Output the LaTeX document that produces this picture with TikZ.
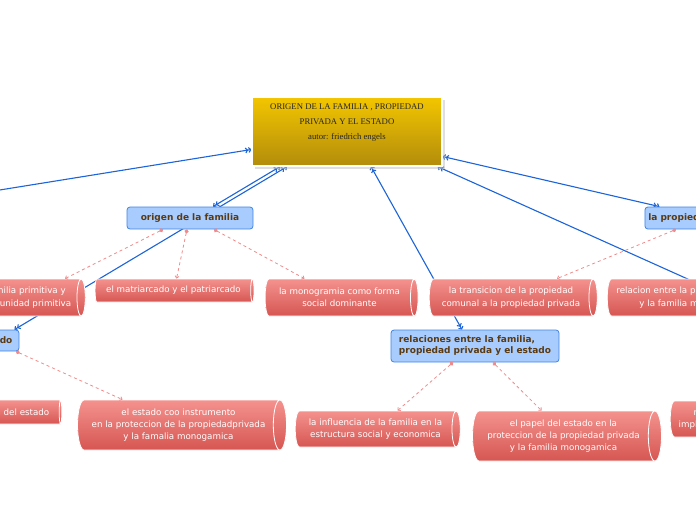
\documentclass[tikz,border=0pt]{standalone}
\usepackage{fontspec}
\usepackage{tikz}
\usetikzlibrary{shapes,arrows.meta,calc,shadows,backgrounds}
\newfontfamily\boxfont{DejaVu Sans}
\newfontfamily\titlefont{Liberation Serif}
\definecolor{linkblue}{RGB}{28,100,216}
\definecolor{dashred}{RGB}{240,138,138}
\definecolor{topicfill}{RGB}{168,204,253}
\definecolor{topicdraw}{RGB}{63,133,230}
\definecolor{topictext}{RGB}{90,58,18}
\definecolor{cyltop}{RGB}{244,146,142}
\definecolor{cylbottom}{RGB}{214,86,82}
\definecolor{goldtop}{RGB}{243,198,0}
\definecolor{goldbottom}{RGB}{178,140,12}
\tikzstyle{main} = [rectangle, draw=white, line width=1.2pt, top color=goldtop, bottom color=goldbottom, minimum width=190pt, minimum height=69pt, drop shadow={shadow xshift=2.5pt, shadow yshift=-2.5pt, fill=black!25}]
\tikzstyle{maintext} = [inner sep=0pt, align=center, text=black!85, font=\titlefont\fontsize{8.7}{15}\selectfont]
\tikzstyle{topic} = [rectangle, draw=topicdraw, fill=topicfill, line width=0.8pt, rounded corners=3pt, text=topictext, font=\boxfont\bfseries\fontsize{9}{11}\selectfont]
% cylinder sizes are given before rotation: height = length, width = thickness
\tikzstyle{leaf} = [cylinder, shape aspect=0.4, draw=white, line width=0.8pt, top color=cyltop, bottom color=cylbottom, text=white, align=center, inner sep=0pt, font=\boxfont\fontsize{8.7}{12.3}\selectfont]
\tikzstyle{link} = [draw=linkblue, line width=1.1pt, {Straight Barb[length=2pt,width=5pt] Straight Barb[length=2pt,width=5pt]}-{Straight Barb[length=2pt,width=5pt] Straight Barb[length=2pt,width=5pt]}]
\tikzstyle{sublink} = [draw=dashred, dashed, line width=0.8pt, {Circle[length=4pt]}-{Straight Barb[length=2pt,width=4pt]}]

\begin{document}
\begin{tikzpicture}[x=1pt, y=-1pt]
    \useasboundingbox (0,0) rectangle (696,520);
    % Define the nodes
    \node [main] (root) at (347,131.5) {};
    \node [maintext, anchor=north] (title) at (347,104) {ORIGEN DE LA FAMILIA , PROPIEDAD\\PRIVADA Y EL ESTADO\\autor: friedrich engels};
    \node [topic, minimum width=126pt, minimum height=22pt] (origen) at (190,218) {origen de la familia};
    \node [topic, minimum width=112pt, minimum height=22pt] (propiedad) at (701,218) {la propiedad privada};
    \node [topic, minimum width=60pt, minimum height=21pt] (estado) at (-11,340.5) {el estado};
    \node [topic, minimum width=168pt, minimum height=32pt, align=left] (relaciones) at (475,346) {relaciones entre la familia,\\propiedad privada y el estado};
    \node [leaf, minimum height=124pt, minimum width=37pt] (famprim) at (21,297.5) {la familia primitiva y\\la comunidad primitiva};
    \node [leaf, minimum height=159pt, minimum width=23pt] (matriarcado) at (173.5,290.5) {el matriarcado y el patriarcado};
    \node [leaf, minimum height=153pt, minimum width=37pt] (monogamia) at (339.5,297.5) {la monogramia como forma\\social dominante};
    \node [leaf, minimum height=168pt, minimum width=37pt] (transicion) at (511,297.5) {la transicion de la propiedad\\comunal a la propiedad privada};
    \node [leaf, minimum height=176pt, minimum width=37pt] (relacion) at (693,297.5) {relacion entre la propiedad privada\\y la familia monogamica};
    \node [leaf, minimum height=126pt, minimum width=24pt] (delestado) at (-2,412) {la formacion del estado};
    \node [leaf, minimum height=209pt, minimum width=50pt] (instrumento) at (178.5,425) {el estado coo instrumento\\en la proteccion de la propiedadprivada\\y la famalia monogamica};
    \node [leaf, minimum height=165pt, minimum width=36pt] (influencia) at (375.5,429) {la influencia de la familia en la\\estructura social y economica};
    \node [leaf, minimum height=189pt, minimum width=50pt] (papel) at (563.5,436) {el papel del estado en la\\proteccion de la propiedad privada\\y la familia monogamica};
    \node [leaf, minimum height=120pt, minimum width=36pt] (repercusion) at (728,419) {repercusiones y\\implicaciones actuales};
    \coordinate (offleft) at (-60,199.6);
    \coordinate (offright) at (770,316);
    % Connect the nodes
    \begin{pgfonlayer}{background}
    \draw [link] (offleft) -- ($(root.west)+(0,18)$);
    \draw [link] ($(origen.north)+(23,0)$) -- ($(root.south)+(-67,0)$);
    \draw [link] ($(estado.north east)+(-5,0)$) -- ($(root.south)+(-60,0)$);
    \draw [link] ($(root.south)+(24,0)$) -- ($(relaciones.north)+(-13,0)$);
    \draw [link] ($(root.east)+(0,25)$) -- ($(propiedad.north west)+(15,0)$);
    \draw [link] ($(root.south east)+(-5,0)$) -- (offright);
    \end{pgfonlayer}
    \draw [sublink] ($(origen.south)+(-27,0)$) -- ($(famprim.north)+(44,0)$);
    \draw [sublink] ($(origen.south)+(-3,0)$) -- ($(matriarcado.north)+(3,0)$);
    \draw [sublink] ($(origen.south)+(24,0)$) -- ($(monogamia.north)+(-35,0)$);
    \draw [sublink] ($(propiedad.south)+(-25,0)$) -- ($(transicion.north)+(46,0)$);
    \draw [sublink] ($(estado.south)+(27,0)$) -- ($(instrumento.north)+(-56,0)$);
    \draw [sublink] ($(relaciones.south)+(-22,0)$) -- ($(influencia.north)+(22,0)$);
    \draw [sublink] ($(relaciones.south)+(18,0)$) -- ($(papel.north)+(-22,0)$);
\end{tikzpicture}
\end{document}
